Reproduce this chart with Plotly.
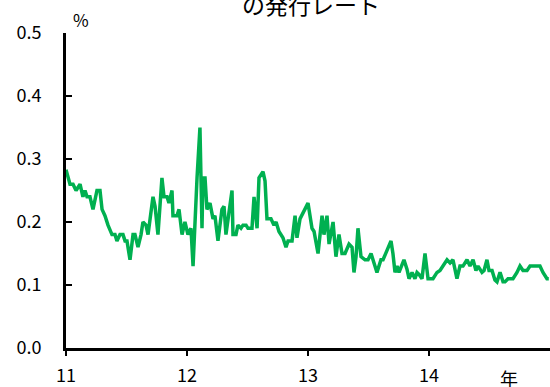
import plotly.graph_objects as go

# x: time in years (11 = 2011 start), y: rate in %
years = [11.00, 11.033, 11.058, 11.083, 11.116, 11.14, 11.157, 11.174, 11.198, 11.223,
         11.256, 11.281, 11.298, 11.322, 11.347, 11.38, 11.405, 11.421, 11.446, 11.471,
         11.488, 11.504, 11.529, 11.554, 11.57, 11.595, 11.62, 11.636, 11.661, 11.678,
         11.719, 11.736, 11.76, 11.793, 11.81, 11.835, 11.851, 11.876, 11.884, 11.917,
         11.934, 11.959, 11.983, 12.008, 12.033, 12.05, 12.083, 12.107, 12.124, 12.132,
         12.149, 12.165, 12.19, 12.215, 12.231, 12.256, 12.289, 12.306, 12.322, 12.339,
         12.372, 12.38, 12.405, 12.421, 12.446, 12.463, 12.488, 12.504, 12.537, 12.554,
         12.579, 12.595, 12.628, 12.645, 12.661, 12.694, 12.719, 12.736, 12.76, 12.793,
         12.818, 12.835, 12.868, 12.893, 12.909, 12.934, 12.959, 13.0, 13.033, 13.05,
         13.083, 13.116, 13.132, 13.157, 13.174, 13.207, 13.231, 13.256, 13.281, 13.306,
         13.339, 13.364, 13.38, 13.397, 13.413, 13.438, 13.471, 13.496, 13.521, 13.537,
         13.57, 13.603, 13.62, 13.653, 13.686, 13.702, 13.719, 13.736, 13.752, 13.793,
         13.818, 13.835, 13.86, 13.884, 13.901, 13.917, 13.942, 13.967, 13.992, 14.033,
         14.066, 14.091, 14.116, 14.149, 14.174, 14.198, 14.231, 14.256, 14.281, 14.314,
         14.339, 14.364, 14.388, 14.405, 14.438, 14.455, 14.479, 14.496, 14.521, 14.545,
         14.562, 14.587, 14.612, 14.628, 14.653, 14.694, 14.727, 14.752, 14.777, 14.81,
         14.835, 14.893, 14.917, 14.942, 14.975, 14.99]
rates = [0.283, 0.26, 0.26, 0.25, 0.26, 0.24, 0.25, 0.24, 0.24, 0.22,
         0.25, 0.25, 0.22, 0.21, 0.195, 0.18, 0.18, 0.17, 0.18, 0.18,
         0.17, 0.17, 0.14, 0.18, 0.18, 0.16, 0.18, 0.20, 0.195, 0.18,
         0.24, 0.225, 0.18, 0.27, 0.24, 0.24, 0.23, 0.25, 0.21, 0.21,
         0.22, 0.18, 0.20, 0.18, 0.19, 0.13, 0.27, 0.35, 0.19, 0.27,
         0.27, 0.22, 0.23, 0.205, 0.21, 0.17, 0.22, 0.225, 0.18, 0.205,
         0.25, 0.18, 0.18, 0.195, 0.19, 0.195, 0.195, 0.19, 0.19, 0.24,
         0.19, 0.27, 0.28, 0.265, 0.205, 0.205, 0.195, 0.20, 0.185, 0.175,
         0.16, 0.17, 0.17, 0.21, 0.175, 0.205, 0.215, 0.23, 0.19, 0.185,
         0.15, 0.21, 0.18, 0.21, 0.165, 0.20, 0.145, 0.18, 0.15, 0.15,
         0.165, 0.16, 0.12, 0.145, 0.19, 0.145, 0.14, 0.14, 0.15, 0.14,
         0.12, 0.14, 0.14, 0.155, 0.17, 0.15, 0.12, 0.13, 0.12, 0.14,
         0.125, 0.11, 0.12, 0.11, 0.12, 0.117, 0.11, 0.15, 0.11, 0.11,
         0.12, 0.123, 0.13, 0.14, 0.135, 0.14, 0.11, 0.13, 0.13, 0.14,
         0.13, 0.14, 0.123, 0.13, 0.12, 0.123, 0.14, 0.123, 0.123, 0.108,
         0.105, 0.12, 0.105, 0.105, 0.11, 0.11, 0.12, 0.13, 0.123, 0.123,
         0.13, 0.13, 0.13, 0.12, 0.11, 0.11]

x_tick_vals = [11, 12, 13, 14]
x_tick_text = ["11", "12", "13", "14"]
y_tick_vals = [0.0, 0.1, 0.2, 0.3, 0.4, 0.5]
y_tick_text = ["0.0", "0.1", "0.2", "0.3", "0.4", "0.5"]

FONT = "Noto Sans CJK JP"

fig = go.Figure()
fig.add_trace(go.Scatter(x=years, y=rates, mode="lines",
                         line=dict(color="#00B050", width=3.5),
                         showlegend=False, hoverinfo="skip"))

fig.update_layout(
    width=550, height=387,
    margin=dict(l=66, r=0, t=33, b=35),
    plot_bgcolor="white", paper_bgcolor="white",
    font=dict(family=FONT, size=18, color="black"),
    xaxis=dict(range=[11, 15], tickvals=x_tick_vals, ticktext=x_tick_text,
               showgrid=False, zeroline=False, showline=True, linecolor="black",
               linewidth=3, ticks="outside", ticklen=5, tickwidth=1.5,
               tickcolor="black", ticklabelstandoff=4),
    yaxis=dict(range=[0, 0.5], tickvals=y_tick_vals, ticktext=y_tick_text,
               showgrid=False, zeroline=False, showline=True, linecolor="black",
               linewidth=3, ticks="inside", ticklen=6, tickwidth=2,
               tickcolor="black", ticklabelstandoff=18),
)

fig.add_annotation(text="%", xref="paper", yref="paper", x=0.031, y=1.0,
                   yshift=14, xanchor="center", yanchor="middle", showarrow=False,
                   font=dict(family=FONT, size=17))
fig.add_annotation(text="年", xref="paper", yref="paper", x=0.915, y=0,
                   yshift=-30, xanchor="center", yanchor="middle", showarrow=False,
                   font=dict(family=FONT, size=18))
fig.add_annotation(text="の発行レート", xref="paper", yref="paper", x=0.506, y=1.0,
                   yshift=29, xanchor="center", yanchor="middle", showarrow=False,
                   font=dict(family=FONT, size=23))

fig.write_html("out.html", config={"displayModeBar": False},
               post_script="document.body.style.margin='0';")
